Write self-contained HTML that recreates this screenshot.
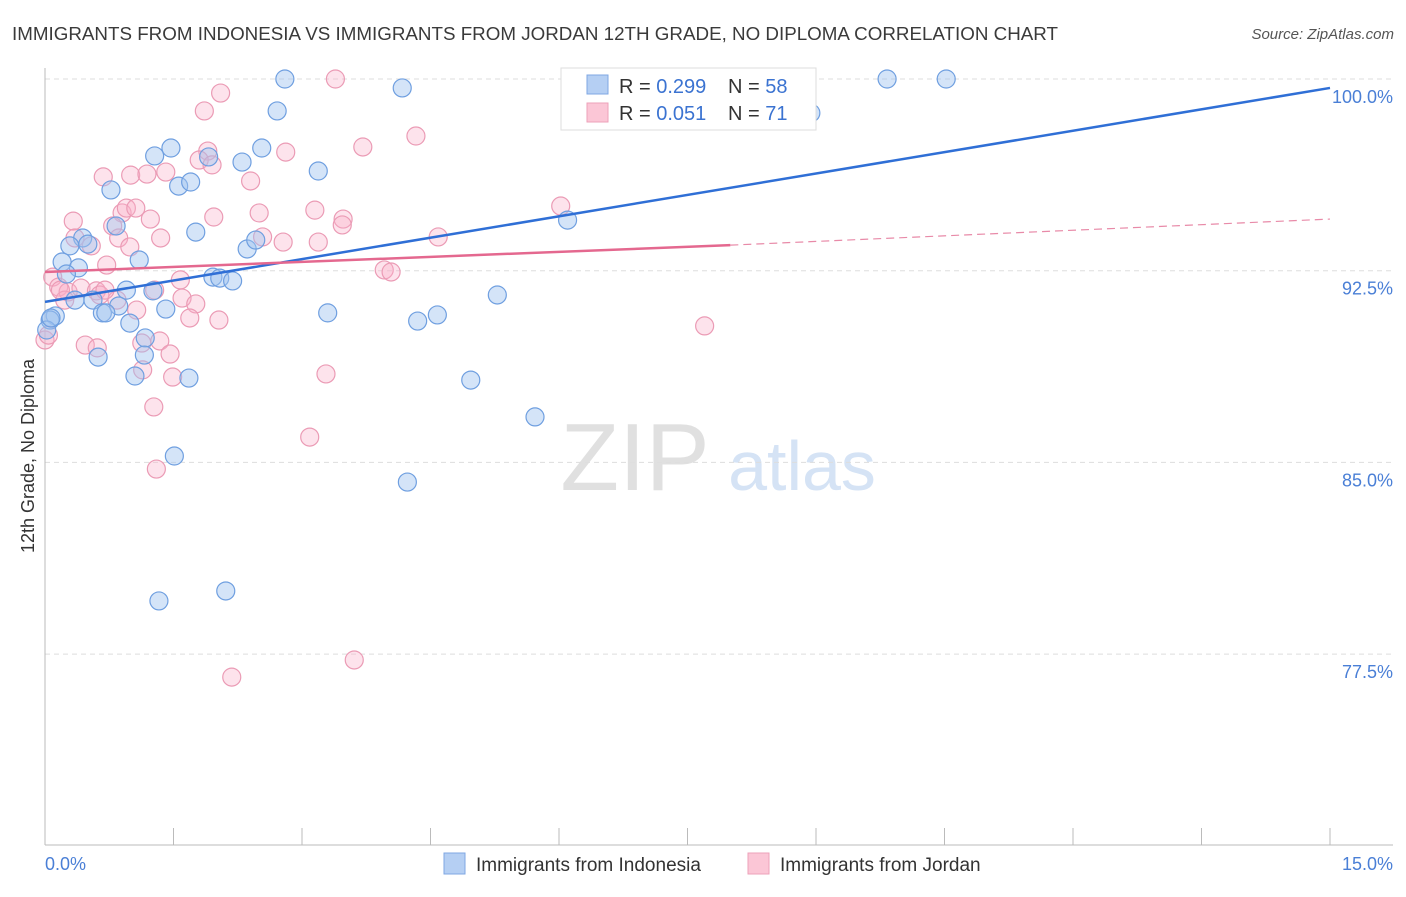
<!DOCTYPE html>
<html><head><meta charset="utf-8"><style>
body{margin:0;background:#fff;font-family:"Liberation Sans",sans-serif;}
svg text{font-family:"Liberation Sans",sans-serif;}
</style></head><body>
<svg id="c" width="1406" height="892">
<text x="12" y="40" font-size="18" fill="#3a3a3a" textLength="1046" lengthAdjust="spacingAndGlyphs">IMMIGRANTS FROM INDONESIA VS IMMIGRANTS FROM JORDAN 12TH GRADE, NO DIPLOMA CORRELATION CHART</text>
<text x="1394" y="39" font-size="15" fill="#555" font-style="italic" text-anchor="end">Source: ZipAtlas.com</text>
<text x="34" y="456" font-size="18" fill="#333" text-anchor="middle" transform="rotate(-90 34 456)">12th Grade, No Diploma</text>
<g><text x="635" y="490" font-size="96" fill="#e0e0e0" font-family="Liberation Serif,serif" text-anchor="middle">ZIP</text><text x="802" y="490" font-size="70" fill="#d5e3f5" text-anchor="middle">atlas</text></g>
<g id="grid"></g><g id="axes"></g><g id="pts"></g><g id="trend"></g>
<g>
<rect x="561" y="68" width="255" height="62" fill="#fff" stroke="#ddd"/>
<rect x="587" y="75" width="21" height="19" fill="#b5cff3" stroke="#7fa7e3"/>
<rect x="587" y="103" width="21" height="19" fill="#fbc6d6" stroke="#eea1b9"/>
<text x="619" y="93" font-size="20" fill="#333">R = <tspan fill="#3b73d1">0.299</tspan></text>
<text x="728" y="93" font-size="20" fill="#333">N = <tspan fill="#3b73d1">58</tspan></text>
<text x="619" y="120" font-size="20" fill="#333">R = <tspan fill="#3b73d1"> 0.051</tspan></text>
<text x="728" y="120" font-size="20" fill="#333">N = <tspan fill="#3b73d1"> 71</tspan></text>
</g>
<g>
<rect x="444" y="853" width="21" height="21" fill="#b5cff3" stroke="#7fa7e3"/>
<text x="476" y="871" font-size="19" fill="#333">Immigrants from Indonesia</text>
<rect x="748" y="853" width="21" height="21" fill="#fbc6d6" stroke="#eea1b9"/>
<text x="780" y="871" font-size="19" fill="#333">Immigrants from Jordan</text>
</g>
<text x="45" y="870" font-size="18" fill="#4a7fd6">0.0%</text>
<text x="1393" y="870" font-size="18" fill="#4a7fd6" text-anchor="end">15.0%</text>
</svg>
<script>
const yTicks=[100,92.5,85,77.5];
const yTickLabels=["100.0%","92.5%","85.0%","77.5%"];
const xTicks=[0,1.5,3,4.5,6,7.5,9,10.5,12,13.5,15];
const blueX=[2.80,4.17,9.83,10.52,8.94,2.71,1.47,1.28,1.91,2.30,2.53,3.19,0.77,1.56,1.70,1.76,2.36,2.46,0.83,0.44,0.29,0.50,0.20,0.39,1.10,0.25,1.96,2.04,2.19,1.26,0.95,0.35,0.56,0.86,1.41,0.67,0.71,0.12,0.06,0.99,3.30,4.35,4.58,5.28,1.17,1.16,0.62,1.05,1.68,4.97,6.10,5.72,1.51,4.23,1.33,2.11,0.02,0.07];
const blueY=[100,99.65,100,100,98.67,98.75,97.30,96.99,96.95,96.75,97.30,96.40,95.66,95.81,95.97,94.01,93.35,93.70,94.25,93.78,93.47,93.54,92.84,92.61,92.92,92.37,92.25,92.21,92.10,91.71,91.74,91.35,91.35,91.12,91.00,90.85,90.85,90.73,90.57,90.45,90.85,90.53,90.77,91.55,89.87,89.20,89.12,88.38,88.30,88.22,94.48,86.78,85.25,84.23,79.58,79.97,90.18,90.65];
const pinkX=[3.39,2.05,1.86,4.33,3.71,1.90,2.81,1.80,1.95,0.68,1.00,1.19,1.41,2.40,0.33,0.90,0.95,1.06,1.23,1.97,2.50,3.15,3.48,3.47,6.02,0.79,0.35,0.86,1.35,2.54,2.78,3.19,4.59,0.54,0.99,0.72,0.09,0.16,0.27,0.42,0.60,0.64,0.84,1.58,1.60,1.76,1.69,2.03,3.96,4.04,7.70,0.47,0.61,1.13,1.34,1.46,1.14,1.49,3.28,1.27,3.09,1.30,3.61,2.18,0.00,0.04,0.70,1.28,1.07,0.23,0.18];
const pinkY=[100,99.45,98.75,97.77,97.34,97.18,97.14,96.83,96.64,96.17,96.24,96.28,96.36,96.01,94.44,94.76,94.95,94.95,94.52,94.60,94.76,94.87,94.52,94.29,95.03,94.25,93.78,93.78,93.78,93.82,93.62,93.62,93.82,93.47,93.43,92.72,92.25,91.86,91.67,91.82,91.71,91.55,91.35,92.14,91.43,91.20,90.65,90.57,92.53,92.45,90.34,89.59,89.48,89.67,89.75,89.24,88.62,88.34,88.46,87.17,85.99,84.74,77.27,76.60,89.79,89.98,91.74,91.74,90.96,91.35,91.74];
const blueTrend=[91.28,99.65];
const pinkTrend=[92.45,93.5,94.52];
const pinkTrendX=[0,8,15];
const X0=45,X1=1330,Y100=79,YPER=25.56;
const sx=v=>X0+(X1-X0)*v/15;
const sy=v=>Y100+(100-v)*YPER;
const NS="http://www.w3.org/2000/svg";
function mk(tag,attrs,parent){const e=document.createElementNS(NS,tag);for(const k in attrs)e.setAttribute(k,attrs[k]);document.getElementById(parent).appendChild(e);return e;}
yTicks.forEach((t,i)=>{
  const g=mk('line',{x1:45,x2:1393,y1:sy(t),y2:sy(t),stroke:'#ddd','stroke-dasharray':'5,4'},'grid');
  
  
  const l=mk('text',{x:1393,y:sy(t)+24,'font-size':18,fill:'#4a7fd6','text-anchor':'end'},'grid');
  l.textContent=yTickLabels[i];
  
  
});
const ya=mk('line',{x1:45,x2:45,y1:68,y2:845,stroke:'#bbb'},'axes');


const xa=mk('line',{x1:45,x2:1393,y1:845,y2:845,stroke:'#bbb'},'axes');


xTicks.forEach(t=>{
  const k=mk('line',{x1:sx(t),x2:sx(t),y1:828,y2:845,stroke:'#bbb'},'axes');
  
  
});
function pts(xs,ys,fill,stroke,name){
  xs.forEach((x,i)=>{
    const c=mk('circle',{cx:sx(x),cy:sy(ys[i]),r:9,fill:fill,stroke:stroke,'stroke-width':1.2},'pts');
    
    
  });
}
pts(pinkX,pinkY,'rgba(248,175,200,0.35)','#eb9bb5','jordan-point');
pts(blueX,blueY,'rgba(160,196,240,0.45)','#6f9fe0','indonesia-point');
const bt=mk('line',{x1:sx(0),y1:sy(blueTrend[0]),x2:sx(15),y2:sy(blueTrend[1]),stroke:'#2f6fd6','stroke-width':2.5},'trend');


const pt=mk('line',{x1:sx(pinkTrendX[0]),y1:sy(pinkTrend[0]),x2:sx(pinkTrendX[1]),y2:sy(pinkTrend[1]),stroke:'#e4688f','stroke-width':2.5},'trend');


const pd=mk('line',{x1:sx(pinkTrendX[1]),y1:sy(pinkTrend[1]),x2:sx(pinkTrendX[2]),y2:sy(pinkTrend[2]),stroke:'#e88aa8','stroke-width':1.2,'stroke-dasharray':'8,5'},'trend');


</script>
</body></html>
